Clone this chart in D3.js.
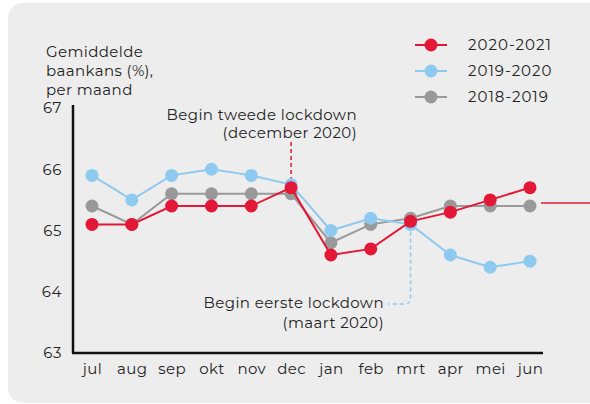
<!DOCTYPE html>
<html><head><meta charset="utf-8">
<script src="https://cdn.jsdelivr.net/npm/d3@7"></script>
<style>
html,body{margin:0;padding:0;background:#fff;}
svg{display:block;font-family:"Montserrat","Lato",sans-serif;}
</style></head>
<body>
<svg id="chart" width="590" height="404"></svg>
<script>
const months = ["jul","aug","sep","okt","nov","dec","jan","feb","mrt","apr","mei","jun"];
const s2020 = [65.1,65.1,65.4,65.4,65.4,65.7,64.6,64.7,65.15,65.3,65.5,65.7];
const s2019 = [65.9,65.5,65.9,66.0,65.9,65.75,65.0,65.2,65.1,64.6,64.4,64.5];
const s2018 = [65.4,65.1,65.6,65.6,65.6,65.6,64.8,65.1,65.2,65.4,65.4,65.4];
const seriesNames = ["2020-2021","2019-2020","2018-2019"];
const yTicks = [63,64,65,66,67];

const colors = {"2020-2021":"#e31837","2019-2020":"#8ec9ef","2018-2019":"#999999"};
const series = [
  {name:"2018-2019", values:s2018},
  {name:"2019-2020", values:s2019},
  {name:"2020-2021", values:s2020}
];

const FF = "Montserrat, Lato, sans-serif";
const FS = 15, LS = "0.4px";
const svg = d3.select("#chart");
svg.append("rect").attr("x",8).attr("y",3).attr("width",610).attr("height",400)
  .attr("rx",15).attr("fill","#ededed");

const x = d3.scalePoint().domain(months).range([92,530]);
const y = d3.scaleLinear().domain([63,67]).range([353,108]);

const yAxis = d3.axisLeft(y).tickValues(yTicks).tickSize(0).tickPadding(11).tickFormat(d3.format("d"));
const gy = svg.append("g").attr("transform","translate(73,0)").call(yAxis);
gy.select(".domain").attr("stroke","#111").attr("stroke-width",2.5).attr("d","M0,105V353");
gy.selectAll("text").attr("font-size",FS).attr("fill","#222").attr("font-family",FF).attr("letter-spacing","0.6px");

const xAxis = d3.axisBottom(x).tickSize(0).tickPadding(10);
const gx = svg.append("g").attr("transform","translate(0,353)").call(xAxis);
gx.select(".domain").attr("stroke","#111").attr("stroke-width",2.5).attr("d","M72,0H543");
gx.selectAll("text").attr("font-size",FS).attr("fill","#222").attr("font-family",FF).attr("letter-spacing",LS);

const yt = svg.append("text").attr("x",46).attr("font-size",FS).attr("fill","#222").attr("letter-spacing",LS);
["Gemiddelde","baankans (%),","per maand"].forEach((t,i)=>{
  yt.append("tspan").attr("x",46).attr("y",57+i*19).text(t);
});

svg.append("line").attr("x1",x("dec")).attr("x2",x("dec")).attr("y1",142).attr("y2",y(65.7))
  .attr("stroke","#e31837").attr("stroke-width",1.5).attr("stroke-dasharray","4,3");
const a1 = svg.append("text").attr("text-anchor","end").attr("font-size",FS).attr("fill","#222").attr("letter-spacing",LS);
a1.append("tspan").attr("x",357).attr("y",120).text("Begin tweede lockdown");
a1.append("tspan").attr("x",357).attr("y",138).text("(december 2020)");

const mx = x("mrt");
svg.append("path").attr("d",`M${mx},${y(65.1)}V298Q${mx},304 ${mx-6},304H388`)
  .attr("fill","none").attr("stroke","#8ec9ef").attr("stroke-width",1.5).attr("stroke-dasharray","4,3");
const a2 = svg.append("text").attr("text-anchor","end").attr("font-size",FS).attr("fill","#222").attr("letter-spacing",LS);
a2.append("tspan").attr("x",384).attr("y",308).text("Begin eerste lockdown");
a2.append("tspan").attr("x",384).attr("y",328).text("(maart 2020)");

svg.append("line").attr("x1",541).attr("x2",590).attr("y1",y(65.45)).attr("y2",y(65.45))
  .attr("stroke","#e31837").attr("stroke-width",1.5);

const line = d3.line().x((d,i)=>x(months[i])).y(d=>y(d));
series.forEach(s=>{
  const g = svg.append("g");
  g.append("path").attr("d",line(s.values)).attr("fill","none")
    .attr("stroke",colors[s.name]).attr("stroke-width",2);
  g.selectAll("circle").data(s.values).join("circle")
    .attr("cx",(d,i)=>x(months[i])).attr("cy",d=>y(d)).attr("r",6.5)
    .attr("fill",colors[s.name]);
});

const lg = svg.append("g");
seriesNames.forEach((n,i)=>{
  const yy = 45 + i*26;
  lg.append("line").attr("x1",415).attr("x2",447).attr("y1",yy).attr("y2",yy)
    .attr("stroke",colors[n]).attr("stroke-width",2);
  lg.append("circle").attr("cx",431).attr("cy",yy).attr("r",6.5).attr("fill",colors[n]);
  lg.append("text").attr("x",468).attr("y",yy+5).attr("font-size",FS).attr("fill","#222")
    .attr("letter-spacing","1px").text(n);
});
</script>
</body></html>
